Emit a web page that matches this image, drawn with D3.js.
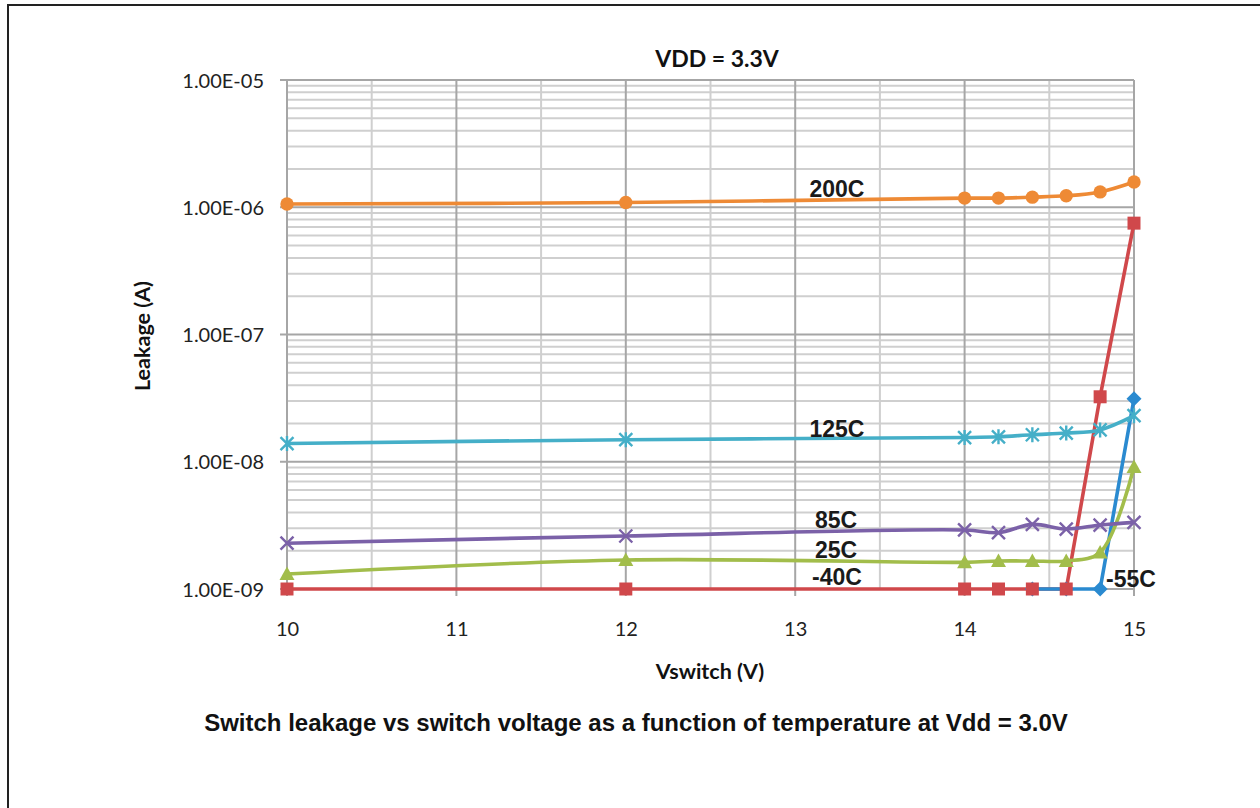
<!DOCTYPE html>
<html>
<head>
<meta charset="utf-8">
<script src="https://cdn.jsdelivr.net/npm/d3@7"></script>
<style>
  body { margin: 0; background: #fff; }
  svg { display: block; }
</style>
</head>
<body>
<div id="chart"></div>
<script>
// Vswitch positions (V)
const vswitch = [10, 12, 14, 14.2, 14.4, 14.6, 14.8, 15];

// leakage (A) per temperature
const leak200 = [1.06e-6, 1.09e-6, 1.18e-6, 1.18e-6, 1.2e-6, 1.23e-6, 1.32e-6, 1.58e-6];
const leak125 = [1.39e-8, 1.49e-8, 1.55e-8, 1.57e-8, 1.63e-8, 1.68e-8, 1.78e-8, 2.3e-8];
const leak85 = [2.29e-9, 2.61e-9, 2.91e-9, 2.77e-9, 3.22e-9, 2.96e-9, 3.18e-9, 3.34e-9];
const leak25 = [1.31e-9, 1.69e-9, 1.62e-9, 1.66e-9, 1.66e-9, 1.66e-9, 1.94e-9, 9.1e-9];
const leakM40 = [1e-9, 1e-9, 1e-9, 1e-9, 1e-9, 1e-9, 3.24e-8, 7.5e-7];
const vswitchM55 = [14.4, 14.6, 14.8, 15];
const leakM55 = [1e-9, 1e-9, 1e-9, 3.13e-8];

const xTicks = [10, 11, 12, 13, 14, 15];
const xTickLabels = ["10", "11", "12", "13", "14", "15"];
const yTicks = [1e-9, 1e-8, 1e-7, 1e-6, 1e-5];
const yTickLabels = ["1.00E-09", "1.00E-08", "1.00E-07", "1.00E-06", "1.00E-05"];

const chartTitle = "VDD = 3.3V";
const xTitle = "Vswitch (V)";
const yTitle = "Leakage (A)";
const caption = "Switch leakage vs switch voltage as a function of temperature at Vdd = 3.0V";

// the two cold curves are plotted unsmoothed
const series = [
  { name: "-40C", xs: vswitch, vals: leakM40, color: "#d0484b", marker: "square", smooth: false, lx: 837, ly: 585, anchor: "middle" },
  { name: "-55C", xs: vswitchM55, vals: leakM55, color: "#2a8ad0", marker: "diamond", smooth: false, lx: 1106, ly: 587, anchor: "start" },
  { name: "25C", xs: vswitch, vals: leak25, color: "#a2bd4b", marker: "triangle", smooth: true, lx: 836, ly: 558, anchor: "middle" },
  { name: "85C", xs: vswitch, vals: leak85, color: "#7b61a8", marker: "cross", smooth: true, lx: 836, ly: 528, anchor: "middle" },
  { name: "125C", xs: vswitch, vals: leak125, color: "#45afc8", marker: "star", smooth: true, lx: 837, ly: 437, anchor: "middle" },
  { name: "200C", xs: vswitch, vals: leak200, color: "#ee8a35", marker: "circle", smooth: true, lx: 837, ly: 197, anchor: "middle" }
];

const W = 1260, H = 808;
const plot = { left: 287, right: 1134, top: 80, bottom: 589 };

const svg = d3.select("#chart").append("svg")
  .attr("width", W)
  .attr("height", H);

// outer frame (top + left edge only visible)
svg.append("path")
  .attr("d", `M8,${H} L8,5 L${W},5`)
  .attr("fill", "none")
  .attr("stroke", "#222")
  .attr("stroke-width", 2);

const x = d3.scaleLinear().domain([10, 15]).range([plot.left, plot.right]);
const y = d3.scaleLog().domain([1e-9, 1e-5]).range([plot.bottom, plot.top]);

// minor grid
const minorY = [];
for (let e = -9; e < -5; e++) {
  for (let m = 2; m <= 9; m++) minorY.push(m * Math.pow(10, e));
}
const minorX = d3.range(10.5, 15, 1);

const minor = svg.append("g").attr("class", "grid-minor");
minor.selectAll("line.h")
  .data(minorY)
  .enter().append("line")
  .attr("x1", plot.left).attr("x2", plot.right)
  .attr("y1", d => y(d)).attr("y2", d => y(d))
  .attr("stroke", "#cfcfcf")
  .attr("stroke-width", 2);

minor.selectAll("line.v")
  .data(minorX)
  .enter().append("line")
  .attr("x1", d => x(d)).attr("x2", d => x(d))
  .attr("y1", plot.top).attr("y2", plot.bottom)
  .attr("stroke", "#cfcfcf")
  .attr("stroke-width", 2);

// major grid (with the little outside ticks)
const major = svg.append("g").attr("class", "grid-major");
major.selectAll("line.h")
  .data(yTicks)
  .enter().append("line")
  .attr("x1", plot.left - 7).attr("x2", plot.right)
  .attr("y1", d => y(d)).attr("y2", d => y(d))
  .attr("stroke", "#a6a6a6")
  .attr("stroke-width", 2);

major.selectAll("line.v")
  .data(xTicks)
  .enter().append("line")
  .attr("x1", d => x(d)).attr("x2", d => x(d))
  .attr("y1", plot.top).attr("y2", plot.bottom + 7)
  .attr("stroke", "#a6a6a6")
  .attr("stroke-width", 2);

// axes (labels only, lines drawn above)
const yAxis = svg.append("g")
  .attr("transform", `translate(${plot.left},0)`)
  .call(d3.axisLeft(y).tickValues(yTicks).tickSize(0).tickPadding(23)
    .tickFormat((d, i) => yTickLabels[i]));
yAxis.select(".domain").remove();
yAxis.selectAll("text")
  .attr("font-family", "Lato, 'Open Sans', sans-serif")
  .attr("font-size", 20)
  .attr("fill", "#222")
  .attr("dy", "0.36em");

const xAxis = svg.append("g")
  .attr("transform", `translate(0,${plot.bottom})`)
  .call(d3.axisBottom(x).tickValues(xTicks).tickSize(0).tickPadding(33)
    .tickFormat((d, i) => xTickLabels[i]));
xAxis.select(".domain").remove();
xAxis.selectAll("text")
  .attr("font-family", "Lato, 'Open Sans', sans-serif")
  .attr("font-size", 20)
  .attr("fill", "#222");

// titles
svg.append("text")
  .attr("x", 717).attr("y", 67)
  .attr("text-anchor", "middle")
  .attr("font-family", "Lato, sans-serif")
  .attr("font-weight", "bold")
  .attr("font-size", 23)
  .attr("fill", "#111")
  .text(chartTitle);

svg.append("text")
  .attr("x", 710).attr("y", 679)
  .attr("text-anchor", "middle")
  .attr("font-family", "Lato, sans-serif")
  .attr("font-weight", "bold")
  .attr("font-size", 21.5)
  .attr("fill", "#111")
  .text(xTitle);

svg.append("text")
  .attr("transform", "rotate(-90)")
  .attr("x", -336).attr("y", 150)
  .attr("text-anchor", "middle")
  .attr("font-family", "Lato, sans-serif")
  .attr("font-weight", "bold")
  .attr("font-size", 21.5)
  .attr("fill", "#111")
  .text(yTitle);

svg.append("text")
  .attr("x", 636).attr("y", 731)
  .attr("text-anchor", "middle")
  .attr("font-family", "'Liberation Sans', Arial, sans-serif")
  .attr("font-weight", "bold")
  .attr("font-size", 24)
  .attr("fill", "#111")
  .text(caption);

// lines
const smoothLine = d3.line()
  .x(d => x(d[0]))
  .y(d => y(d[1]))
  .curve(d3.curveCatmullRom.alpha(0.5));
const straightLine = d3.line()
  .x(d => x(d[0]))
  .y(d => y(d[1]));

const lineG = svg.append("g").attr("class", "lines");
series.forEach(s => {
  const pts = s.xs.map((v, i) => [v, s.vals[i]]);
  lineG.append("path")
    .datum(pts)
    .attr("d", s.smooth ? smoothLine : straightLine)
    .attr("fill", "none")
    .attr("stroke", s.color)
    .attr("stroke-width", 3.6)
    .attr("stroke-linejoin", "round");
});

// markers
function markerPath(type) {
  switch (type) {
    case "square": return "M-6.5,-6.5H6.5V6.5H-6.5Z";
    case "diamond": return "M0,-7.5L7.5,0L0,7.5L-7.5,0Z";
    case "triangle": return "M0,-7.5L7.5,6H-7.5Z";
    case "circle": return "M-6.7,0A6.7,6.7 0 1,0 6.7,0A6.7,6.7 0 1,0 -6.7,0Z";
    case "cross": return "M-6.5,-6.5L6.5,6.5M-6.5,6.5L6.5,-6.5";
    case "star": return "M-6.5,-6.5L6.5,6.5M-6.5,6.5L6.5,-6.5M0,-7.5V7.5";
  }
}

// draw -55C markers first so the -40C squares sit on top
const markerOrder = [1, 0, 2, 3, 4, 5];
const markG = svg.append("g").attr("class", "markers");
markerOrder.forEach(k => {
  const s = series[k];
  const open = s.marker === "cross" || s.marker === "star";
  markG.selectAll(null)
    .data(s.xs.map((v, i) => [v, s.vals[i]]))
    .enter().append("path")
    .attr("transform", d => `translate(${x(d[0])},${y(d[1])})`)
    .attr("d", markerPath(s.marker))
    .attr("fill", open ? "none" : s.color)
    .attr("stroke", s.color)
    .attr("stroke-width", open ? 2.4 : 0);
});

// series labels
svg.append("g").attr("class", "labels")
  .selectAll("text")
  .data(series)
  .enter().append("text")
  .attr("x", d => d.lx)
  .attr("y", d => d.ly)
  .attr("text-anchor", d => d.anchor)
  .attr("font-family", "'Liberation Sans', Arial, sans-serif")
  .attr("font-weight", "bold")
  .attr("font-size", 23)
  .attr("fill", "#1a1a1a")
  .text(d => d.name);
</script>
</body>
</html>
